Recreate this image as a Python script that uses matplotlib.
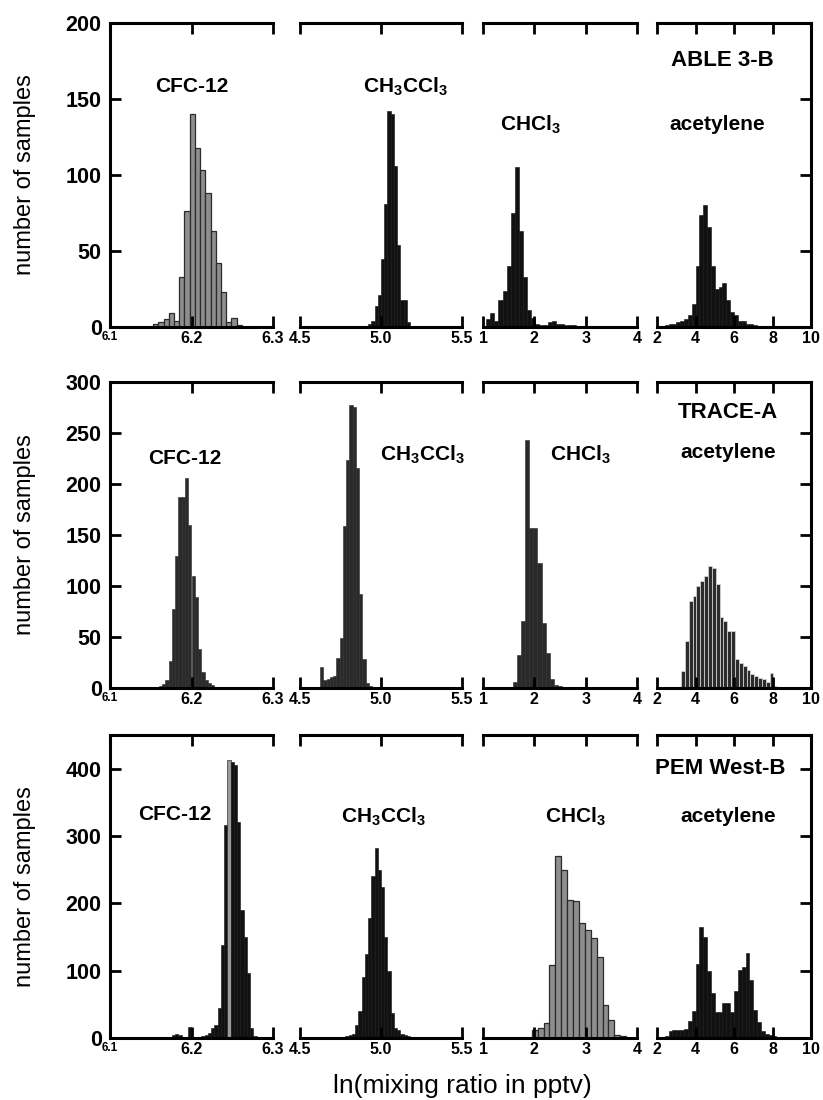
"""Frequency distributions of ln(mixing ratio) for four trace gases in three
aircraft campaigns (ABLE 3-B, TRACE-A, PEM West-B)."""
import matplotlib
matplotlib.use("Agg")
import matplotlib.pyplot as plt
import numpy as np

plt.rcParams["font.family"] = ["Liberation Sans", "DejaVu Sans"]
plt.rcParams["mathtext.fontset"] = "custom"
plt.rcParams["mathtext.default"] = "regular"

# ---- axes setup (shared by the three campaigns) ----
campaigns = ["ABLE 3-B", "TRACE-A", "PEM West-B"]
species = ["CFC-12", "CH$_3$CCl$_3$", "CHCl$_3$", "acetylene"]
x_limits = [(6.1, 6.3), (4.5, 5.5), (1.0, 4.0), (2.0, 10.0)]
x_ticks = [[6.1, 6.2, 6.3], [4.5, 5.0, 5.5], [1, 2, 3, 4], [2, 4, 6, 8, 10]]
x_ticklabels = [["6.1", "6.2", "6.3"], ["4.5", "5.0", "5.5"],
                ["1", "2", "3", "4"], ["2", "4", "6", "8", "10"]]
y_max = [200, 300, 450]
y_ticks = [[0, 50, 100, 150, 200],
           [0, 50, 100, 150, 200, 250, 300],
           [0, 100, 200, 300, 400]]

# ---- histograms: first bin edge, bin width, counts ----
able_cfc_start, able_cfc_width = 6.153, 0.0064
able_cfc = [2, 3, 5, 9, 4, 33, 76, 140, 118, 103, 88, 63, 42, 23, 3, 6, 1]
able_ch3_start, able_ch3_width = 4.92, 0.02
able_ch3 = [2, 4, 14, 21, 45, 81, 142, 140, 106, 54, 18, 18, 3]
able_chcl3_start, able_chcl3_width = 1.06, 0.08
able_chcl3 = [5, 9, 4, 18, 24, 40, 75, 105, 63, 33, 11, 6, 2, 1, 1, 3, 4, 2,
              2, 1, 1, 1]
able_c2h2_start, able_c2h2_width = 2.4, 0.2
able_c2h2 = [1, 2, 2, 3, 4, 5, 8, 15, 40, 74, 80, 66, 40, 25, 26, 29, 18, 10,
             8, 4, 4, 2, 2, 1]

trace_cfc_start, trace_cfc_width = 6.152, 0.004
trace_cfc = [1, 1, 2, 4, 8, 26, 77, 129, 187, 187, 206, 160, 110, 89, 38, 16,
             8, 5, 3, 1]
trace_ch3_start, trace_ch3_width = 4.625, 0.02
trace_ch3 = [21, 8, 9, 11, 12, 29, 49, 159, 224, 277, 275, 216, 92, 28, 5, 2]
trace_chcl3_start, trace_chcl3_width = 1.5, 0.08
trace_chcl3 = [1, 6, 32, 66, 243, 157, 157, 123, 64, 34, 9, 3, 2, 1]
trace_c2h2_start, trace_c2h2_width = 3.25, 0.2
trace_c2h2 = [17, 46, 85, 90, 100, 105, 110, 120, 118, 102, 70, 66, 56, 56,
              28, 25, 22, 18, 14, 12, 10, 9, 6, 15, 2, 1]

pem_cfc_start, pem_cfc_width = 6.160, 0.004
pem_cfc = [1, 1, 1, 2, 5, 6, 4, 2, 2, 17, 2, 2, 2,
           3, 5, 8, 15, 20, 44, 138, 316, 413, 410, 405, 321, 190, 150, 96,
           15, 3, 1]
pem_ch3_start, pem_ch3_width = 4.76, 0.02
pem_ch3 = [2, 3, 4, 6, 20, 40, 90, 125, 178, 240, 282, 250, 225, 150, 100,
           37, 15, 12, 6, 4, 3, 2, 1]
pem_chcl3_start, pem_chcl3_width = 1.949, 0.115
pem_chcl3 = [12, 15, 23, 108, 271, 250, 205, 203, 171, 160, 149, 120, 49, 26,
             5, 3]
pem_c2h2_start, pem_c2h2_width = 2.2, 0.2
pem_c2h2 = [2, 3, 10, 12, 12, 12, 14, 25, 40, 110, 165, 150, 100, 67, 39, 39,
            52, 52, 39, 70, 101, 105, 126, 86, 41, 24, 10, 6, 4, 3, 2, 1]

hists = [
    [(able_cfc_start, able_cfc_width, able_cfc),
     (able_ch3_start, able_ch3_width, able_ch3),
     (able_chcl3_start, able_chcl3_width, able_chcl3),
     (able_c2h2_start, able_c2h2_width, able_c2h2)],
    [(trace_cfc_start, trace_cfc_width, trace_cfc),
     (trace_ch3_start, trace_ch3_width, trace_ch3),
     (trace_chcl3_start, trace_chcl3_width, trace_chcl3),
     (trace_c2h2_start, trace_c2h2_width, trace_c2h2)],
    [(pem_cfc_start, pem_cfc_width, pem_cfc),
     (pem_ch3_start, pem_ch3_width, pem_ch3),
     (pem_chcl3_start, pem_chcl3_width, pem_chcl3),
     (pem_c2h2_start, pem_c2h2_width, pem_c2h2)],
]

# ---- layout (pixels on the 823x1100 canvas) ----
W, H = 823, 1100
col_px = [(110, 273), (300, 462), (483, 637), (657, 811)]
row_px = [(23, 327), (382, 688), (735, 1038)]
label_px = [
    [(192, 87), (405, 87), (530, 125), (717, 125)],
    [(185, 458), (422, 455), (580, 455), (728, 453)],
    [(175, 815), (383, 817), (575, 817), (728, 817)],
]
campaign_px = [(722, 60), (728, 412), (720, 768)]

# bar styles: (face, edge, linewidth)
BLACK = ("#111111", "#111111", 0.4)
DARK = ("#2a2a2a", "#2a2a2a", 0.4)
GRAY = ("#8e8e8e", "#2b2b2b", 0.9)
STRIPED = ("#2c2c2c", "#dddddd", 0.5)
styles = [
    [GRAY, BLACK, BLACK, BLACK],
    [DARK, DARK, DARK, STRIPED],
    [BLACK, BLACK, GRAY, BLACK],
]


def fx(x):
    return x / W


def fy(y):
    return 1 - y / H


fig = plt.figure(figsize=(W / 100, H / 100), dpi=100)

for r in range(3):
    y0, y1 = row_px[r]
    for c in range(4):
        x0, x1 = col_px[c]
        ax = fig.add_axes([fx(x0), fy(y1), (x1 - x0) / W, (y1 - y0) / H])
        start, width, counts = hists[r][c]
        counts = np.asarray(counts, dtype=float)
        left = start + width * np.arange(len(counts))
        fc, ec, lw = styles[r][c]
        bars = ax.bar(left, counts, width=width, align="edge", color=fc,
                      edgecolor=ec, linewidth=lw, zorder=1)
        if r == 2 and c == 0:
            # one pale bar at the top of the PEM West-B CFC-12 peak
            bars[int(np.argmax(counts))].set_facecolor("#9a9a9a")

        ax.set_xlim(*x_limits[c])
        ax.set_ylim(0, y_max[r])
        ax.patch.set_alpha(0)
        for side in ("top", "bottom", "left", "right"):
            ax.spines[side].set_linewidth(2.2)
        ax.spines["left"].set_visible(c == 0)
        ax.spines["right"].set_visible(c == 3)

        ax.set_xticks(x_ticks[c])
        ax.set_xticklabels(x_ticklabels[c], fontsize=11.5, fontweight="bold")
        ax.tick_params(axis="x", which="both", direction="in", top=True,
                       bottom=True, length=8, width=2, pad=3)
        if c == 0:
            ax.get_xticklabels()[0].set_fontsize(8.5)

        ax.set_yticks(y_ticks[r])
        if c == 0:
            ax.set_yticklabels([str(v) for v in y_ticks[r]], fontsize=15.5,
                               fontweight="bold")
            ax.tick_params(axis="y", direction="in", left=True, right=False,
                           length=8, width=2, pad=6)
        elif c == 3:
            ax.tick_params(axis="y", direction="in", left=False, right=True,
                           labelleft=False, length=8, width=2)
        else:
            ax.tick_params(axis="y", left=False, right=False, labelleft=False)

        lx, ly = label_px[r][c]
        fig.text(fx(lx), fy(ly), species[c], ha="center", va="center",
                 fontsize=15, fontweight="bold")

    cx, cy = campaign_px[r]
    fig.text(fx(cx), fy(cy), campaigns[r], ha="center", va="center",
             fontsize=16, fontweight="bold")
    fig.text(fx(25), fy((y0 + y1) / 2), "number of samples", rotation=90,
             ha="center", va="center", fontsize=17)

fig.text(fx(462), fy(1086), "ln(mixing ratio in pptv)", ha="center",
         va="center", fontsize=19)

fig.savefig("out.png", dpi=100)
